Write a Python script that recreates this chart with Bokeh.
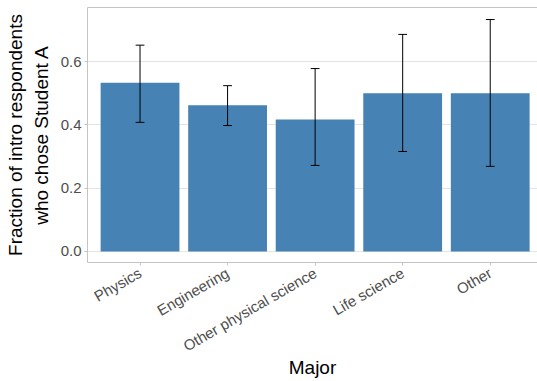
import math
from bokeh.plotting import figure
from bokeh.models import ColumnDataSource, FixedTicker, Range1d, LinearAxis
from bokeh.embed import file_html
from bokeh.resources import INLINE

# Survey results by major
majors = ["Physics", "Engineering", "Other physical science", "Life science", "Other"]
fraction = [0.533, 0.462, 0.417, 0.5, 0.5]
ci_lower = [0.408, 0.398, 0.272, 0.316, 0.269]
ci_upper = [0.652, 0.524, 0.578, 0.686, 0.733]
y_ticks = [0.0, 0.2, 0.4, 0.6]
x_title = "Major"
y_title = "Fraction of intro respondents\nwho chose Student A"

positions = list(range(1, len(majors) + 1))
cap_half = 0.05
source = ColumnDataSource(dict(
    x=positions, top=fraction, lower=ci_lower, upper=ci_upper,
    cap_left=[x - cap_half for x in positions],
    cap_right=[x + cap_half for x in positions],
))

FONT = "Liberation Sans"
BAR = "#4682B4"
BORDER = "#c4c4c4"
GRID = "#e4e4e4"

p = figure(
    frame_width=450, frame_height=255,
    x_range=Range1d(0.4, 5.54), y_range=Range1d(-0.0348, 0.771),
    output_backend="svg", toolbar_location=None,
    min_border_left=87, min_border_right=0, min_border_top=7, min_border_bottom=119,
)
p.background_fill_color = "white"
p.border_fill_color = "white"
p.outline_line_color = None

p.vbar(x="x", top="top", width=0.9, bottom=0, source=source,
       fill_color=BAR, line_color=None)

# error bars: stems and caps
p.segment(x0="x", y0="lower", x1="x", y1="upper", source=source,
          line_color="black", line_width=1)
p.segment(x0="cap_left", y0="upper", x1="cap_right", y1="upper", source=source,
          line_color="black", line_width=1)
p.segment(x0="cap_left", y0="lower", x1="cap_right", y1="lower", source=source,
          line_color="black", line_width=1)

# grid
p.xgrid.grid_line_color = None
p.ygrid.ticker = FixedTicker(ticks=y_ticks)
p.ygrid.grid_line_color = GRID
p.ygrid.grid_line_width = 1

# axes
p.xaxis.ticker = FixedTicker(ticks=positions)
p.xaxis.major_label_overrides = {pos: name for pos, name in zip(positions, majors)}
p.xaxis.major_label_orientation = math.pi / 6
p.xaxis.axis_label = x_title
p.yaxis.ticker = FixedTicker(ticks=y_ticks)
p.yaxis.major_label_overrides = {t: f"{t:.1f}" for t in y_ticks}
p.yaxis.axis_label = y_title

for ax in (p.xaxis[0], p.yaxis[0]):
    ax.axis_line_color = BORDER
    ax.major_tick_line_color = BORDER
    ax.major_tick_out = 3
    ax.major_tick_in = 0
    ax.minor_tick_line_color = None
    ax.major_label_text_font = FONT
    ax.major_label_text_font_size = "15px"
    ax.major_label_text_color = "#4d4d4d"
    ax.major_label_standoff = 3
    ax.axis_label_text_font = FONT
    ax.axis_label_text_font_size = "19px"
    ax.axis_label_text_font_style = "normal"
    ax.axis_label_text_color = "black"

p.xaxis.major_label_standoff = 6
p.xaxis.axis_label_standoff = -8
p.yaxis.axis_label_standoff = 6

# top edge of the panel border
top_edge = LinearAxis(ticker=FixedTicker(ticks=[]), axis_line_color=BORDER,
                      major_tick_line_color=None, minor_tick_line_color=None,
                      major_label_text_font_size="0px")
p.add_layout(top_edge, "above")

open("out.html", "w").write(file_html(p, INLINE))
